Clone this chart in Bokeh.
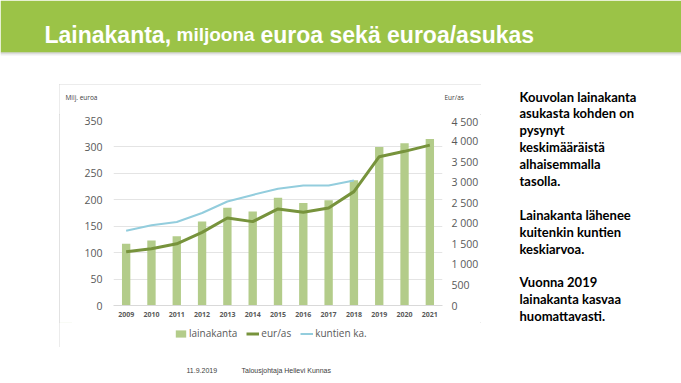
from bokeh.plotting import figure
from bokeh.models import Range1d, LinearAxis, FixedTicker, Legend, LegendItem, Spacer, ColumnDataSource
from bokeh.layouts import column, row
from bokeh.embed import file_html
from bokeh.resources import INLINE
from bokeh.core.properties import value

# ---------------- data ----------------
years = [str(y) for y in range(2009, 2022)]
lainakanta = [117, 123, 131, 159, 185, 178, 204, 194, 199, 237, 300, 307, 315]
eur_as = [1310, 1380, 1500, 1780, 2130, 2040, 2350, 2270, 2370, 2770, 3620, 3750, 3900]
kuntien_years = [str(y) for y in range(2009, 2019)]
kuntien_ka = [1820, 1950, 2030, 2250, 2530, 2690, 2840, 2920, 2920, 3040]
left_ticks = [0, 50, 100, 150, 200, 250, 300, 350]
right_ticks = [0, 500, 1000, 1500, 2000, 2500, 3000, 3500, 4000, 4500]
right_labels = ["0", "500", "1 000", "1 500", "2 000", "2 500", "3 000", "3 500", "4 000", "4 500"]
series_names = ["lainakanta", "eur/as", "kuntien ka."]
axis_titles = ["Milj. euroa", "Eur/as"]

title_parts = ["Lainakanta,", "miljoona", "euroa sekä euroa/asukas"]
side_text = ["Kouvolan lainakanta", "asukasta kohden on", "pysynyt", "keskimääräistä",
             "alhaisemmalla", "tasolla.", "", "Lainakanta lähenee", "kuitenkin kuntien",
             "keskiarvoa.", "", "Vuonna 2019", "lainakanta kasvaa", "huomattavasti."]
footer_texts = ["11.9.2019", "Talousjohtaja Hellevi Kunnas"]

GREEN = "#9BC347"
BAR = "#B3CC8A"
DARK = "#77933C"
BLUE = "#93CDDD"
GRAY = "#595959"


def blank(w, h, xr, yr):
    f = figure(width=w, height=h, x_range=xr, y_range=yr, output_backend="svg",
               toolbar_location=None, min_border=0)
    f.axis.visible = False
    f.grid.visible = False
    f.outline_line_color = None
    f.background_fill_color = "white"
    f.border_fill_color = "white"
    return f

# ---------------- title band ----------------
band = blank(681, 58, Range1d(0, 681), Range1d(58, 0))
band.quad(left=[0], right=[681], top=[0], bottom=[52], fill_color=GREEN, line_color=None)
band.quad(left=[0, 0, 0], right=[681, 681, 681], top=[52, 53, 54], bottom=[53, 54, 55],
          fill_color=["#BFBFBF", "#D9D9D9", "#EDEDED"], line_color=None)
tsrc = ColumnDataSource(dict(x=[44, 176, 260], y=[34, 34, 34], t=title_parts,
                             s=["23px", "19px", "23px"]))
band.text(x="x", y="y", text="t", source=tsrc, text_font=value("Liberation Sans"),
          text_font_style="bold", text_font_size="s", text_color="white",
          text_baseline="alphabetic", text_align="left")

# ---------------- chart header (axis titles) ----------------
head = blank(422, 30, Range1d(0, 422), Range1d(30, 0))
head.text(x=[6, 385], y=[13, 13], text=axis_titles, text_font=value("Open Sans"),
          text_font_size="6.5px", text_color="#404040", text_baseline="middle",
          text_align="left")

# ---------------- chart ----------------
p = figure(width=422, height=208, x_range=years, y_range=Range1d(0, 350),
           output_backend="svg", toolbar_location=None,
           min_border_left=54, min_border_right=37, min_border_top=6, min_border_bottom=17)
p.extra_y_ranges = {"right": Range1d(0, 4500)}
p.outline_line_color = None
p.background_fill_color = "white"
p.border_fill_color = "white"

bars = p.vbar(x=years, top=lainakanta, width=0.33, fill_color=BAR, line_color=None)
l2 = p.line(x=kuntien_years, y=kuntien_ka, y_range_name="right", line_color=BLUE, line_width=2)
l1 = p.line(x=years, y=eur_as, y_range_name="right", line_color=DARK, line_width=3)

p.xgrid.visible = False
p.ygrid.grid_line_color = "#E4E4E4"
p.ygrid.ticker = FixedTicker(ticks=left_ticks)

p.yaxis.ticker = FixedTicker(ticks=left_ticks)
p.yaxis.axis_line_color = None
p.yaxis.major_tick_line_color = None
p.yaxis.minor_tick_line_color = None
p.yaxis.major_tick_out = 0
p.yaxis.minor_tick_out = 0
p.yaxis.major_label_standoff = 11
p.yaxis.major_label_text_font = "Open Sans"
p.yaxis.major_label_text_font_size = "10.5px"
p.yaxis.major_label_text_color = GRAY

ra = LinearAxis(y_range_name="right", ticker=FixedTicker(ticks=right_ticks),
                major_label_overrides={t: s for t, s in zip(right_ticks, right_labels)})
ra.axis_line_color = None
ra.major_tick_line_color = None
ra.minor_tick_line_color = None
ra.major_tick_out = 0
ra.minor_tick_out = 0
ra.major_label_standoff = 9
ra.major_label_text_font = "Open Sans"
ra.major_label_text_font_size = "10.5px"
ra.major_label_text_color = GRAY
p.add_layout(ra, "right")

p.xaxis.axis_line_color = "#D9D9D9"
p.xaxis.major_tick_line_color = None
p.xaxis.minor_tick_line_color = None
p.xaxis.major_tick_out = 0
p.xaxis.major_label_standoff = 6
p.xaxis.major_label_text_font = "Open Sans"
p.xaxis.major_label_text_font_style = "bold"
p.xaxis.major_label_text_font_size = "7px"
p.xaxis.major_label_text_color = GRAY

# ---------------- legend strip (same data, drawn out of view, samples only) ----------------
leg = blank(422, 25, Range1d(0, 422), Range1d(-2000, -1000))
lsrc_bar = ColumnDataSource(dict(x=list(range(len(years))), y=lainakanta))
lsrc_dark = ColumnDataSource(dict(x=list(range(len(years))), y=eur_as))
lsrc_blue = ColumnDataSource(dict(x=list(range(len(kuntien_years))), y=kuntien_ka))
r_bar = leg.vbar(x="x", top="y", width=0.3, source=lsrc_bar, fill_color=BAR, line_color=None)
r_dark = leg.line(x="x", y="y", source=lsrc_dark, line_color=DARK, line_width=3)
r_blue = leg.line(x="x", y="y", source=lsrc_blue, line_color=BLUE, line_width=2)
legend = Legend(items=[LegendItem(label=series_names[0], renderers=[r_bar]),
                       LegendItem(label=series_names[1], renderers=[r_dark]),
                       LegendItem(label=series_names[2], renderers=[r_blue])],
                orientation="horizontal", location=(115, 7),
                label_text_font="Open Sans", label_text_font_size="10px",
                label_text_color=GRAY, glyph_width=13, glyph_height=9,
                label_height=12, label_standoff=2, spacing=9, padding=0, margin=0,
                border_line_color=None, background_fill_alpha=0)
leg.add_layout(legend)

chart = column(row(head), p, row(leg),
               styles={"outline": "1px solid #D9D9D9", "outline-offset": "-1px"})

# ---------------- side text ----------------
side = blank(200, 297, Range1d(0, 200), Range1d(297, 0))
sy = [38 + 16.9 * i for i in range(len(side_text))]
side.text(x=[38] * len(side_text), y=sy, text=side_text, text_font=value("Lato"),
          text_font_style="bold", text_font_size="13px", text_color="black",
          text_baseline="middle", text_align="left")

# ---------------- footer ----------------
foot = blank(681, 28, Range1d(0, 681), Range1d(28, 0))
foot.text(x=[186, 241], y=[15, 15], text=footer_texts, text_font=value("Liberation Sans"),
          text_font_size="7px", text_color="#404040", text_baseline="middle", text_align="left")

mid = row(Spacer(width=59, height=297),
          column(Spacer(width=422, height=26), chart, Spacer(width=422, height=8)),
          side)
layout = column(band, mid, foot)

open("out.html", "w").write(file_html(layout, INLINE))
